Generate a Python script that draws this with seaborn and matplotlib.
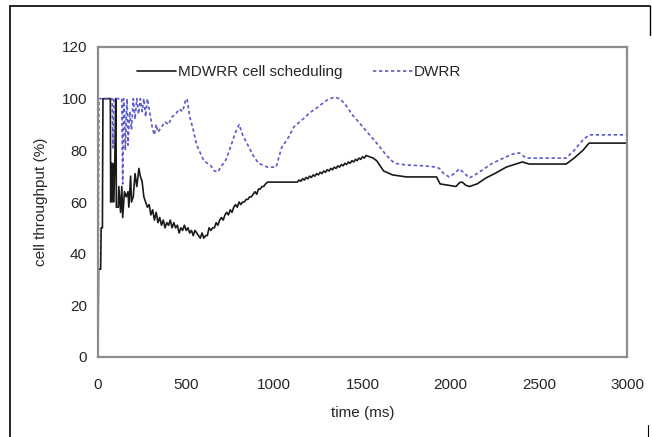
import matplotlib
matplotlib.use("Agg")
import matplotlib.pyplot as plt
from matplotlib.lines import Line2D
import seaborn as sns
import pandas as pd

# MDWRR cell scheduling (black, solid)
mdwrr_t = [0, 3, 15, 18, 25, 28, 70, 72, 75, 80, 85, 90, 95, 100, 102, 104, 115, 118, 128, 135,
           140, 150, 160, 170, 175, 185, 190, 200, 210, 220, 232, 240, 250, 260, 270, 280, 290,
           300, 310, 320, 330, 340, 350, 360, 370, 380, 390, 400, 410, 420, 430, 440, 450, 460,
           470, 480, 490, 500, 510, 520, 530, 540, 550, 560, 570, 580, 590, 600, 610, 620, 630,
           640, 650, 660, 670, 680, 690, 700, 710, 720, 730, 740, 750, 760, 770, 780, 790, 800,
           810, 820, 830, 840, 850, 860, 870, 880, 890, 900, 910, 920, 930, 940, 950, 962, 1130,
           1140, 1150, 1160, 1170, 1180, 1190, 1200, 1210, 1220, 1230, 1240, 1250, 1260, 1270,
           1280, 1290, 1300, 1310, 1320, 1330, 1340, 1350, 1360, 1370, 1380, 1390, 1400, 1410,
           1420, 1430, 1440, 1450, 1460, 1470, 1480, 1490, 1500, 1510, 1520, 1540, 1560, 1580,
           1600, 1620, 1670, 1750, 1920, 1940, 1975, 2030, 2050, 2066, 2085, 2106, 2150, 2200,
           2250, 2315, 2360, 2406, 2445, 2655, 2700, 2750, 2785, 3000]
mdwrr_v = [0, 34, 34, 50, 50, 100, 100, 60, 75, 60, 75, 60, 75, 100, 100, 58, 58, 66, 56, 66,
           54, 64, 62, 64, 58, 70, 60, 62, 71, 66, 73, 70, 68, 62, 60, 58, 59,
           55, 57, 53, 56, 52, 54, 51, 53, 50, 52, 51, 53, 50, 52, 50, 51, 48,
           50, 49, 51, 49, 50, 48, 49, 47, 49, 48, 47, 46, 48, 46, 47, 47, 50,
           49, 50, 50, 52, 51, 53, 54, 53, 55, 56, 55, 57, 56, 58, 59, 58, 60,
           59, 60, 60, 61, 61, 62, 62, 63, 64, 63, 65, 65, 66, 66, 67, 67.7, 67.7,
           68.5, 68, 69, 68.5, 69.5, 69, 70, 69.5, 70.5, 70, 71, 70.5, 71.5, 71,
           72, 71.5, 72.5, 72, 73, 72.5, 73.5, 73, 74, 73.5, 74.5, 74, 75, 74.5,
           75.5, 75, 76, 75.5, 76.5, 76, 77, 76.5, 77.5, 77, 78, 77.5, 77, 76,
           74, 72, 70.5, 69.7, 69.7, 67, 66.6, 66, 67.5, 67.7, 66.5, 66, 67, 69.3,
           71, 73.5, 74.5, 75.5, 74.7, 74.7, 77, 80, 82.8, 82.8]

# DWRR (blue, dashed)
dwrr_t = [0, 5, 80, 85, 90, 135, 140, 145, 150, 155, 160, 165, 170, 180, 190, 200, 210, 220,
          230, 240, 250, 260, 270, 280, 290, 300, 310, 320, 330, 340, 360, 380, 400, 420, 440,
          460, 480, 495, 505, 520, 540, 560, 580, 600, 620, 640, 660, 680, 700, 720, 740, 760,
          780, 800, 820, 850, 880, 910, 960, 1010, 1041, 1080, 1110, 1143, 1170, 1200, 1240,
          1270, 1300, 1340, 1370, 1400, 1443, 1490, 1540, 1590, 1636, 1681, 1749, 1850, 1919,
          1936, 1960, 1992, 2020, 2049, 2080, 2106, 2150, 2236, 2300, 2350, 2389, 2428, 2655,
          2700, 2750, 2785, 3000]
dwrr_v = [0, 100, 100, 81, 100, 100, 67, 100, 95, 80, 92, 100, 82, 95, 88, 100, 92, 100,
          94, 100, 95, 100, 93, 100, 96, 92, 88, 86, 90, 87, 89, 91, 90, 93, 94,
          96, 95, 99, 100, 93, 88, 82, 79, 76, 75, 74, 72, 71.6, 74, 75.5, 79, 83,
          87, 90, 86, 82, 78, 75, 73.5, 73.5, 81, 85, 89, 91, 92.5, 94.5, 96.4,
          98, 99.5, 100.6, 100, 98, 93.7, 90, 86, 82, 78, 75, 74.3, 74, 73.5,
          73, 71, 69.7, 71, 72.8, 71, 69.3, 71, 75, 77, 78.5, 79, 77, 77,
          80, 84, 86, 86]

df_m = pd.DataFrame({"time": mdwrr_t, "val": mdwrr_v})
df_d = pd.DataFrame({"time": dwrr_t, "val": dwrr_v})

sns.set_style("white")
plt.rcParams["font.family"] = ["Liberation Sans", "DejaVu Sans"]

fig = plt.figure(figsize=(6.52, 4.37), dpi=100)
ax = fig.add_axes([98 / 652, 1 - 357 / 437, (627 - 98) / 652, (357 - 47) / 437])

sns.lineplot(data=df_m, x="time", y="val", ax=ax, estimator=None, sort=False,
             color="#1a1a1a", linewidth=1.2, label="MDWRR cell scheduling")
sns.lineplot(data=df_d, x="time", y="val", ax=ax, estimator=None, sort=False,
             color="#5a5ac8", linewidth=1.2, linestyle=(0, (2.0, 1.6)), label="DWRR")

ax.set_xlim(0, 3000)
ax.set_ylim(0, 120)
ax.set_xticks([0, 500, 1000, 1500, 2000, 2500, 3000])
ax.set_yticks([0, 20, 40, 60, 80, 100, 120])
ax.set_xlabel("time (ms)", fontsize=11, labelpad=10)
ax.set_ylabel("cell throughput (%)", fontsize=11, labelpad=10)
ax.tick_params(axis="x", direction="in", length=4, width=1.2, color="#999999",
               labelsize=11, pad=15)
ax.tick_params(axis="y", length=0, labelsize=11, pad=8)
for s in ax.spines.values():
    s.set_color("#8c8c8c")
    s.set_linewidth(1.6)

leg = ax.legend(loc="upper center", bbox_to_anchor=(0.38, 1.0), ncol=2, frameon=False,
                fontsize=11, handlelength=2.6, handletextpad=0.1, columnspacing=2.0,
                borderaxespad=0.8)

# outer frame lines of the figure image
fig.add_artist(Line2D([10 / 652, 650 / 652], [1 - 6 / 437, 1 - 6 / 437], color="black", lw=1.2))
fig.add_artist(Line2D([10 / 652, 10 / 652], [0, 1 - 6 / 437], color="black", lw=1.2))
fig.add_artist(Line2D([650 / 652, 650 / 652], [1 - 35 / 437, 1 - 6 / 437], color="black", lw=1.0))
fig.add_artist(Line2D([648 / 652, 648 / 652], [0, 1 - 425 / 437], color="black", lw=0.8))

fig.savefig("out.png", dpi=100)
